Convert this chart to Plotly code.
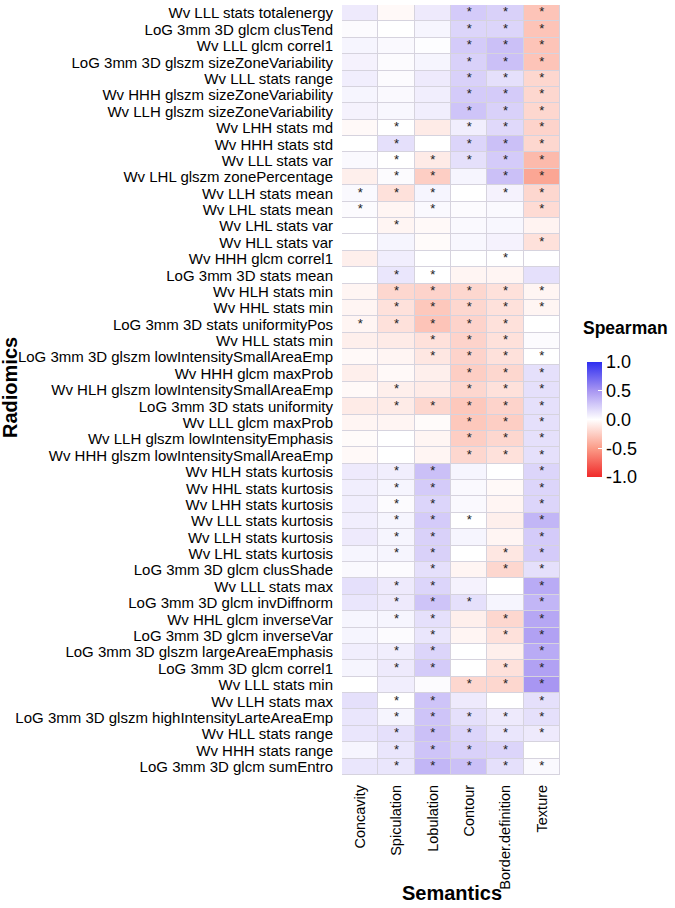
import plotly.graph_objects as go

# %%
semantics = ["Concavity", "Spiculation", "Lobulation", "Contour", "Border.definition", "Texture"]

radiomics = [
    "Wv LLL stats totalenergy", "LoG 3mm 3D glcm clusTend", "Wv LLL glcm correl1",
    "LoG 3mm 3D glszm sizeZoneVariability", "Wv LLL stats range", "Wv HHH glszm sizeZoneVariability",
    "Wv LLH glszm sizeZoneVariability", "Wv LHH stats md", "Wv HHH stats std", "Wv LLL stats var",
    "Wv LHL glszm zonePercentage", "Wv LLH stats mean", "Wv LHL stats mean", "Wv LHL stats var",
    "Wv HLL stats var", "Wv HHH glcm correl1", "LoG 3mm 3D stats mean", "Wv HLH stats min",
    "Wv HHL stats min", "LoG 3mm 3D stats uniformityPos", "Wv HLL stats min",
    "LoG 3mm 3D glszm lowIntensitySmallAreaEmp", "Wv HHH glcm maxProb",
    "Wv HLH glszm lowIntensitySmallAreaEmp", "LoG 3mm 3D stats uniformity", "Wv LLL glcm maxProb",
    "Wv LLH glszm lowIntensityEmphasis", "Wv HHH glszm lowIntensitySmallAreaEmp",
    "Wv HLH stats kurtosis", "Wv HHL stats kurtosis", "Wv LHH stats kurtosis", "Wv LLL stats kurtosis",
    "Wv LLH stats kurtosis", "Wv LHL stats kurtosis", "LoG 3mm 3D glcm clusShade", "Wv LLL stats max",
    "LoG 3mm 3D glcm invDiffnorm", "Wv HHL glcm inverseVar", "LoG 3mm 3D glcm inverseVar",
    "LoG 3mm 3D glszm largeAreaEmphasis", "LoG 3mm 3D glcm correl1", "Wv LLL stats min",
    "Wv LLH stats max", "LoG 3mm 3D glszm highIntensityLarteAreaEmp", "Wv HLL stats range",
    "Wv HHH stats range", "LoG 3mm 3D glcm sumEntro",
]

# spearman rho, one row per radiomic feature (columns follow `semantics`)
rho = [
    [0.10, -0.03, 0.10, 0.25, 0.22, -0.30],
    [0.02, 0.00, 0.05, 0.20, 0.20, -0.30],
    [0.05, 0.03, 0.01, 0.25, 0.30, -0.30],
    [0.06, 0.02, 0.05, 0.22, 0.30, -0.30],
    [0.08, 0.02, 0.10, 0.22, 0.15, -0.20],
    [0.05, 0.03, 0.08, 0.25, 0.25, -0.20],
    [0.06, 0.04, 0.08, 0.28, 0.22, -0.20],
    [-0.03, 0.00, -0.10, 0.08, 0.18, -0.22],
    [0.00, 0.15, 0.00, 0.20, 0.30, -0.20],
    [0.03, 0.00, -0.10, 0.15, 0.25, -0.35],
    [-0.08, 0.02, -0.25, 0.05, 0.30, -0.45],
    [0.03, -0.15, 0.05, 0.00, 0.06, -0.20],
    [0.02, -0.05, 0.03, 0.02, 0.03, -0.18],
    [0.00, -0.05, -0.03, 0.03, 0.04, -0.06],
    [0.00, 0.05, -0.02, 0.04, 0.06, -0.15],
    [-0.08, 0.08, 0.00, 0.00, 0.00, 0.00],
    [0.00, 0.12, 0.00, -0.05, -0.05, 0.15],
    [-0.05, -0.20, -0.22, -0.20, -0.15, -0.05],
    [-0.05, -0.15, -0.28, -0.20, -0.15, -0.05],
    [-0.05, -0.15, -0.30, -0.22, -0.15, 0.00],
    [-0.08, -0.10, -0.15, -0.22, -0.15, 0.02],
    [-0.03, -0.05, -0.12, -0.22, -0.15, 0.00],
    [-0.08, -0.03, -0.08, -0.25, -0.20, 0.15],
    [-0.03, -0.08, -0.10, -0.20, -0.15, 0.15],
    [-0.10, -0.10, -0.20, -0.28, -0.22, 0.15],
    [-0.05, -0.05, -0.02, -0.28, -0.25, 0.15],
    [-0.02, 0.00, -0.05, -0.25, -0.20, 0.15],
    [-0.03, 0.00, -0.05, -0.20, -0.15, 0.15],
    [0.10, 0.08, 0.30, 0.05, 0.00, 0.20],
    [0.08, 0.05, 0.25, 0.03, -0.03, 0.20],
    [0.08, 0.02, 0.20, 0.03, -0.05, 0.20],
    [0.08, 0.05, 0.25, 0.00, -0.08, 0.35],
    [0.10, 0.05, 0.22, 0.05, -0.05, 0.25],
    [0.05, 0.05, 0.22, 0.00, -0.12, 0.25],
    [0.03, 0.02, 0.15, -0.05, -0.20, 0.15],
    [0.15, 0.10, 0.20, 0.06, 0.00, 0.40],
    [0.12, 0.10, 0.28, 0.15, 0.05, 0.35],
    [0.05, 0.05, 0.15, -0.08, -0.20, 0.42],
    [0.05, 0.02, 0.12, -0.05, -0.15, 0.45],
    [0.08, 0.08, 0.20, 0.00, -0.08, 0.40],
    [0.05, 0.10, 0.25, 0.00, -0.15, 0.45],
    [0.00, 0.08, 0.02, -0.20, -0.20, 0.50],
    [0.15, 0.00, 0.28, 0.10, 0.00, 0.15],
    [0.12, 0.05, 0.28, 0.15, 0.10, 0.15],
    [0.12, 0.15, 0.30, 0.20, 0.12, 0.10],
    [0.05, 0.12, 0.28, 0.22, 0.20, 0.00],
    [0.12, 0.12, 0.35, 0.30, 0.15, 0.03],
]

# significance flags per row, 1 = "*"
signif = [
    "000111", "000111", "000111", "000111", "000111", "000111", "000111",
    "010111", "010111", "011111", "011011", "111011", "101001", "010000",
    "000001", "000010", "011000", "011111", "011111", "111110", "001110",
    "001111", "000111", "010111", "011111", "000111", "000111", "000111",
    "011001", "011001", "011001", "011101", "011001", "011011", "001011",
    "011001", "011101", "011011", "001011", "011001", "011011", "000111",
    "011001", "011111", "011111", "011110", "011111",
]

# %%
star_x, star_y = [], []
for r, flags in zip(radiomics, signif):
    for c, f in zip(semantics, flags):
        if f == "1":
            star_x.append(c)
            star_y.append(r)

scale = [
    [0.0, "#f02a2a"], [0.25, "#fb9c88"], [0.5, "#ffffff"],
    [0.75, "#a896f2"], [1.0, "#2e2ef0"],
]

# plot area in pixels
L, R, T, B = 342, 560, 5, 775
W, H = 675, 908
px_x = lambda p: (p - L) / (R - L)
px_y = lambda p: (B - p) / (B - T)

fig = go.Figure()
fig.add_trace(go.Heatmap(
    z=rho, x=semantics, y=radiomics, zmin=-1, zmax=1,
    colorscale=scale, xgap=1, ygap=1,
    colorbar=dict(
        thickness=15, len=115, lenmode="pixels", ypad=0,
        x=px_x(577), xanchor="left",
        y=px_y(419.5), yanchor="middle", outlinewidth=0,
        tickvals=[1, 0.5, 0, -0.5, -1], ticktext=["1.0", "0.5", "0.0", "-0.5", "-1.0"],
        ticks="inside", ticklen=4, tickcolor="white",
        tickfont=dict(size=18, color="black"),
    ),
))
fig.add_trace(go.Scatter(
    x=star_x, y=star_y, mode="text", text=["*"] * len(star_x),
    textfont=dict(size=13, color="#222222"), hoverinfo="skip", showlegend=False,
))

fig.update_xaxes(tickangle=-90, tickfont=dict(size=14.5, color="black"),
                 range=[-0.5, 5.5], showgrid=False, zeroline=False, ticks="",
                 automargin=False, ticklabelstandoff=6)
fig.update_yaxes(range=[len(radiomics) - 0.5, -0.5], tickmode="array", tickvals=radiomics,
                 tickfont=dict(size=15, color="black"), showgrid=False, zeroline=False,
                 ticks="", automargin=False, ticklabelstandoff=8)

fig.add_annotation(text="<b>Radiomics</b>", x=px_x(10), y=px_y(388),
                   xref="paper", yref="paper", xanchor="center", yanchor="middle",
                   showarrow=False, textangle=-90, font=dict(size=20, color="black"))
fig.add_annotation(text="<b>Semantics</b>", x=px_x(452), y=px_y(893),
                   xref="paper", yref="paper", xanchor="center", yanchor="middle",
                   showarrow=False, font=dict(size=20, color="black"))
fig.add_annotation(text="<b>Spearman</b>", x=px_x(581), y=px_y(328),
                   xref="paper", yref="paper", xanchor="left", yanchor="middle",
                   showarrow=False, font=dict(size=17.5, color="black"))

fig.update_layout(
    width=W, height=H,
    margin=dict(l=L, r=W - R, t=T, b=H - B, autoexpand=False),
    plot_bgcolor="#d6d3de", paper_bgcolor="white",
    font=dict(family="Liberation Sans, Arial", color="black"),
)

# page body has an 8px default margin; drop it so the figure sits at the window corner
fig.write_html("out.html", config={"displayModeBar": False},
               post_script="document.body.style.margin='0';document.body.style.overflow='hidden';")
